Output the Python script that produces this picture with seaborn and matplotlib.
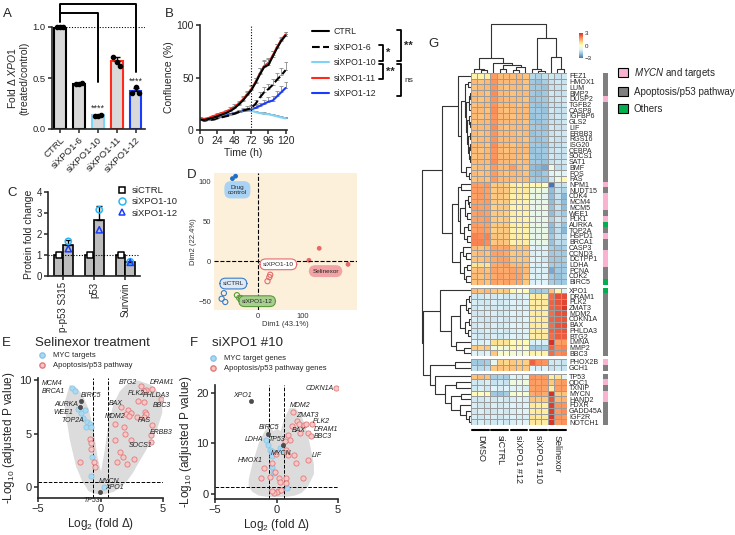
import numpy as np
import pandas as pd
import seaborn as sns
import matplotlib.pyplot as plt
from matplotlib.colors import LinearSegmentedColormap, ListedColormap
from matplotlib.lines import Line2D
from matplotlib.patches import Patch

# ------------------------------ data ------------------------------
# A: XPO1 knockdown (qPCR)
a_groups = ['CTRL', 'siXPO1-6', 'siXPO1-10', 'siXPO1-11', 'siXPO1-12']
a_reps = [[1.0, 1.0, 1.0], [0.44, 0.44, 0.45], [0.13, 0.13, 0.14],
          [0.71, 0.66, 0.62], [0.35, 0.41, 0.35]]
a_edge = ['black', 'black', '#7fd3f7', '#ff2a1a', '#1a3cff']

# B: confluence over time
b_time = [0, 6, 12, 18, 24, 30, 36, 42, 48, 54, 60, 66, 72, 78, 84, 90, 96, 102, 108, 114, 120]
b_ctrl = [10, 9.5, 10.5, 11.5, 13, 14.5, 16, 18, 20.5, 24, 28, 33, 38, 45, 53, 60, 62, 70, 78, 85, 90]
b_si6 = [10, 9, 9.5, 10, 11, 12, 13, 14, 15.5, 17, 18.5, 19.5, 21, 25, 31, 36, 39, 43, 48, 52, 57]
b_si10 = [11, 10.5, 11, 11.5, 12, 13, 14, 15, 16, 17, 18, 18.5, 18.5, 17, 16, 15.5, 15, 14, 13, 12, 11]
b_si11 = [11, 10.5, 11.5, 13, 14.5, 16, 17.5, 19.5, 22, 25, 29, 34, 39, 46, 54, 61, 64, 71, 79, 86, 91]
b_si12 = [10, 9.5, 10, 10.5, 11.5, 12.5, 13.5, 15, 16, 17, 18, 19, 20, 21, 23, 25, 27, 28, 32, 36, 40]
b_ctrl_err = [1, 1, 1, 1, 1.5, 1.5, 2, 2, 2.5, 3, 3, 3.5, 4, 5, 6, 7, 6, 5, 4, 3, 3]
b_si6_err = [1, 1, 1, 1, 1, 1, 1.5, 1.5, 2, 2, 2.5, 3, 3, 4, 5, 5, 5, 6, 6, 7, 8]
b_si10_err = [1, 1, 1, 1, 1, 1, 1, 1, 1, 1, 1.5, 1.5, 1.5, 1.5, 1.5, 1.5, 1.5, 1.5, 1.5, 1.5, 1.5]
b_si11_err = [1, 1, 1, 1, 1.5, 1.5, 2, 2, 2.5, 3, 3, 3.5, 4, 4, 5, 5, 5, 4, 3, 3, 2]
b_si12_err = [1, 1, 1, 1, 1, 1, 1, 1.5, 1.5, 2, 2, 2, 2.5, 3, 3, 4, 4, 4.5, 5, 5.5, 6]

# C: protein fold change
c_proteins = ['p-p53 S315', 'p53', 'Survivin']
c_ctrl = [1.0, 1.0, 1.0]
c_si10 = [1.65, 3.15, 0.68]
c_si12 = [1.30, 2.20, 0.65]

# D: PCA
d_drug_x, d_drug_y = [-57, -50], [103, 106]
d_si10_x, d_si10_y = [21, 25, 27], [-25, -20, -17]
d_sel_x, d_sel_y = [113, 136, 200], [1, 16, -4]
d_sictrl_x, d_sictrl_y = [-76, -81, -73], [-40, -47, -51]
d_si12_x, d_si12_y = [-47, -42, -38], [-42.5, -46, -46]

# E: volcano, Selinexor
e_cloud_x = [-2.9, -2.5, -2, -1.5, -1, -0.6, -0.3, 0, 0.3, 0.6, 1, 1.5, 2, 2.5, 3, 3.5, 4, 4.5, 4.9]
e_cloud_hi = [8.0, 9.6, 9.4, 8.7, 7.4, 5.5, 3.0, 1.5, 3.5, 6.0, 7.8, 9.0, 9.6, 9.9, 10.0, 9.8, 9.6, 9.0, 8.4]
e_cloud_lo = [7.5, 4.5, 2.0, 0.6, -0.3, -0.5, -0.6, -0.6, -0.6, -0.5, -0.4, 0.0, 0.5, 1.3, 2.3, 3.3, 4.3, 5.5, 7.0]
e_myc_x = [-2.26, -2.08, -1.8, -1.28, -1.55, -1.43, -1.1, -0.83, -1.2, -0.75, -0.67, -0.75, 0.24]
e_myc_y = [9.3, 9.0, 7.35, 7.2, 6.9, 6.45, 6.1, 5.9, 5.6, 5.6, 2.8, 1.1, 0.0]
e_apo_x = [-0.88, -0.75, -0.75, -1.68, -0.53, -0.48, 3.25, 4.13, 3.65, 3.5, 4.8, 3.44, 2.98,
           1.65, 2.18, 2.45, 2.05, 2.3, 2.93, 3.52, 3.6, 3.5, 1.12, 1.84, 4.13, 4.0, 4.0, 1.96,
           1.12, 2.45, 1.52, 1.8, 2.13, 1.3, 2.7]
e_apo_y = [4.55, 4.1, 3.6, 2.4, 2.35, 1.9, 9.45, 9.2, 9.1, 9.0, 8.2, 8.0, 8.1, 7.45, 7.2, 6.9,
           6.8, 6.65, 6.6, 7.05, 6.8, 6.6, 5.9, 5.65, 5.8, 4.85, 4.2, 5.0, 4.45, 4.45, 3.3, 2.8,
           2.2, 2.4, 2.6]
e_dark_x = [-1.55, -1.68, -0.03]
e_dark_y = [8.1, 7.45, -0.4]
e_lab = ['MCM4', 'BRCA1', 'BIRC5', 'AURKA', 'WEE1', 'TOP2A', 'BTG2', 'DRAM1', 'PLK2', 'PHLDA3',
         'BBC3', 'BAX', 'MDM2', 'FAS', 'ERBB3', 'SOCS1', 'MYCN', 'XPO1', 'TP53']
e_lab_x = [-3.9, -3.8, -0.75, -2.7, -3.0, -2.2, 2.2, 4.9, 2.86, 4.45, 4.9, 1.25, 1.2, 3.47,
           4.85, 3.17, 0.72, 1.12, -0.74]
e_lab_y = [9.7, 8.9, 8.6, 7.75, 7.0, 6.2, 9.8, 9.8, 8.75, 8.6, 7.6, 7.8, 6.65, 6.25, 5.1, 3.9,
           0.55, 0.0, -1.2]

# F: volcano, siXPO1 #10
f_cloud_x = [-2.3, -2.0, -1.5, -1.0, -0.6, -0.3, 0, 0.3, 0.6, 1.0, 1.5, 2.0, 2.5, 3.0]
f_cloud_hi = [3, 6, 10, 12.5, 13.5, 12.5, 13, 12.5, 15, 17, 17, 15.5, 12, 6]
f_cloud_lo = [1.5, 0.5, -0.2, -0.4, -0.5, -0.5, -0.5, -0.5, -0.5, -0.4, -0.2, 0.3, 1.5, 4]
f_myc_x = [-0.89, -0.7, -0.5, -0.4, -0.4, -0.35, -0.3, -0.2, 0.32, 0.46, 0.86]
f_myc_y = [10.7, 9.7, 8.7, 8.4, 7.4, 5.4, 4.4, 4.1, 9.0, 8.7, 1.1]
f_apo_x = [4.8, 1.35, 1.67, 1.8, 1.3, 2.2, 2.4, 2.88, 2.6, 2.8, 1.94, 0.91, 1.1, 0.73, 0.8,
           0.95, 1.4, 2.6, 1.6, -0.08, -0.35, -1.0, -0.56, -1.27, -0.1, 0.19, 0.27, 0.78, 0.78,
           2.15, 0.1, 0.0, 0.4, -0.2, -0.4]
f_apo_y = [20.9, 16.2, 14.3, 13.8, 13.5, 13.6, 13.8, 13.8, 12.0, 11.5, 12.0, 11.7, 10.7, 10.4,
           8.7, 7.7, 7.7, 6.7, 6.1, 7.9, 6.1, 5.1, 3.4, 3.1, 4.4, 3.2, 2.4, 3.1, 2.2, 3.1, 0.6,
           0.3, 0.8, 0.1, 0.6]
f_dark_x = [-2.04, -0.67, 0.54]
f_dark_y = [18.3, 11.9, 9.6]
f_lab = ['XPO1', 'CDKN1A', 'MDM2', 'ZMAT3', 'PLK2', 'DRAM1', 'BAX', 'BBC3', 'BIRC5', 'LDHA',
         'TP53', 'MYCN', 'LIF', 'HMOX1']
f_lab_x = [-2.77, 3.5, 1.94, 2.47, 3.68, 4.03, 1.8, 3.76, -0.62, -1.83, 0.0, 0.38, 3.28, -2.15]
f_lab_y = [19.4, 20.9, 17.4, 15.5, 14.2, 12.7, 12.5, 11.3, 13.1, 10.8, 10.7, 7.9, 7.6, 6.5]

# G: heatmap (z-scores), columns = DMSO x3, siCTRL x3, siXPO1 #12 x3, siXPO1 #10 x3, Selinexor x3
g_groups = ['DMSO', 'siCTRL', 'siXPO1 #12', 'siXPO1 #10', 'Selinexor']
g_genes_c1 = ['FEZ1', 'HMOX1', 'LUM', 'BMP2', 'DUSP2', 'TGFB2', 'CASP8', 'IGFBP6', 'GLS2', 'LIF',
              'ERBB3', 'RGS16', 'ISG20', 'CEBPA', 'SOCS1', 'SAT1', 'BMF', 'FOS', 'FAS']
g_vals_c1 = [
    [0.3, 0.3, 0.4, 1.6, 1.2, 1.2, 1.2, 1.2, 1.1, -1.5, -1.6, -1.4, -1.2, -1.3, -1.2],
    [1.2, 1.1, 1.2, 1.7, 1.2, 1.2, 1.2, 1.3, 1.1, -1.8, -1.9, -1.7, -1.3, -1.2, -1.3],
    [1.1, 1.2, 1.2, 1.7, 1.2, 1.1, 1.2, 1.2, 1.1, -1.8, -1.8, -1.9, -1.3, -1.3, -1.2],
    [1.2, 1.2, 1.1, 1.8, 1.2, 1.2, 1.1, 1.2, 1.2, -1.8, -1.9, -1.8, -1.2, -1.3, -1.3],
    [1.2, 1.1, 1.2, 1.7, 1.3, 1.2, 1.2, 1.2, 1.1, -1.9, -1.8, -1.8, -1.3, -1.2, -1.2],
    [1.1, 1.2, 1.2, 1.7, 1.2, 1.2, 1.2, 1.1, 1.2, -1.8, -1.9, -1.8, -1.3, -1.3, -1.2],
    [1.2, 1.2, 1.1, 1.8, 1.2, 1.1, 1.2, 1.2, 1.2, -1.8, -1.8, -1.9, -1.2, -1.3, -1.3],
    [1.2, 1.1, 1.2, 1.7, 1.2, 1.2, 1.1, 1.2, 1.2, -1.9, -1.8, -1.8, -1.3, -1.2, -1.3],
    [1.1, 1.2, 1.2, 1.7, 1.2, 1.2, 1.2, 1.2, 1.1, -1.8, -1.9, -1.8, -1.3, -1.3, -1.2],
    [1.2, 1.2, 1.2, 1.8, 1.2, 1.1, 1.2, 1.2, 1.2, -1.8, -1.8, -1.9, -1.2, -1.3, -1.3],
    [1.2, 1.1, 1.2, 1.7, 1.2, 1.2, 1.2, 1.1, 1.2, -1.9, -1.8, -1.8, -1.3, -1.2, -1.2],
    [1.1, 1.2, 1.2, 1.7, 1.2, 1.2, 1.2, 1.2, 1.1, -1.8, -1.9, -1.8, -1.2, -1.3, -1.3],
    [1.2, 1.2, 1.1, 1.8, 1.2, 1.2, 1.1, 1.2, 1.2, -1.8, -1.8, -1.9, -1.3, -1.3, -1.2],
    [1.2, 1.1, 1.2, 1.7, 1.2, 1.1, 1.2, 1.2, 1.2, -1.9, -1.8, -1.8, -1.3, -1.2, -1.3],
    [1.1, 1.2, 1.2, 1.7, 1.2, 1.2, 1.2, 1.2, 1.1, -1.8, -1.9, -1.8, -1.2, -1.3, -1.3],
    [1.2, 1.2, 1.2, 1.8, 1.2, 1.2, 1.2, 1.1, 1.2, -1.8, -1.8, -1.9, -1.3, -1.2, -1.2],
    [1.1, 1.2, 1.1, 1.6, 1.2, 1.2, 1.6, 1.2, 1.1, -2.0, -2.1, -2.3, -0.6, -1.4, -1.3],
    [1.2, 1.1, 1.2, 1.6, 1.2, 1.1, 1.2, 1.2, 1.1, -1.9, -2.0, -1.8, -1.0, -0.8, -1.0],
    [1.1, 1.2, 1.1, 1.6, 1.2, 1.2, 1.2, 1.1, 1.2, -1.8, -1.8, -1.9, -1.2, -0.6, 0.2]]
g_genes_c2 = ['NPM1', 'NUDT15', 'CDK4', 'MCM4', 'MCM5', 'WEE1', 'PLK1', 'AURKA', 'TOP2A', 'HSPD1',
              'BRCA1', 'CASP3', 'CCND3', 'DCTPP1', 'LDHA', 'PCNA', 'CDK2', 'BIRC5']
g_vals_c2 = [
    [1.6, 1.5, 1.6, 1.0, 1.0, 0.9, 0.4, 0.3, 0.4, 0.1, 0.2, -0.2, -3.0, -1.2, -1.3],
    [1.6, 1.6, 1.5, 1.0, 1.1, 1.0, 0.5, 0.4, 0.5, -0.6, -0.5, -0.7, -2.0, -1.3, -1.6],
    [1.5, 1.6, 1.5, 1.0, 1.0, 0.9, 0.3, 0.4, 0.3, -0.7, -0.6, -0.9, -2.0, -1.3, -2.1],
    [1.5, 1.5, 1.6, 1.0, 0.9, 1.0, 0.4, 0.3, 0.3, -0.6, -0.8, -0.7, -2.0, -1.4, -2.0],
    [1.6, 1.5, 1.5, 0.9, 1.0, 1.0, 0.3, 0.3, 0.4, -0.8, -0.7, -0.6, -1.9, -1.3, -2.0],
    [1.5, 1.6, 1.5, 1.0, 1.0, 0.9, 0.4, 0.3, 0.3, -0.7, -0.7, -0.8, -2.0, -1.5, -1.8],
    [1.5, 1.5, 1.6, 1.0, 0.9, 1.0, 0.3, 0.4, 0.3, -0.6, -0.8, -0.7, -1.6, -1.2, -1.5],
    [1.6, 1.5, 1.5, 1.0, 1.0, 1.0, 0.4, 0.3, 0.4, -0.7, -0.6, -0.8, -2.0, -1.3, -1.9],
    [1.5, 1.6, 1.5, 0.9, 1.0, 1.0, 0.3, 0.3, 0.3, -0.8, -0.7, -0.7, -2.0, -1.4, -2.1],
    [1.9, 1.8, 1.9, 1.1, 1.0, 1.0, 0.4, 0.4, 0.3, -0.7, -0.8, -0.6, -1.8, -1.3, -1.4],
    [1.9, 1.9, 1.8, 1.0, 1.1, 1.0, 0.3, 0.4, 0.4, -0.8, -0.7, -0.7, -1.9, -1.4, -1.5],
    [1.2, 1.1, 1.2, 1.5, 1.4, 1.5, 1.1, 1.0, 1.1, -1.0, -1.1, -1.0, -1.7, -1.8, -1.7],
    [1.1, 1.2, 1.1, 1.5, 1.5, 1.4, 1.0, 1.1, 1.0, -1.1, -1.0, -1.1, -1.8, -1.7, -1.8],
    [1.1, 1.1, 1.2, 1.4, 1.5, 1.5, 1.1, 1.0, 1.1, -1.0, -1.0, -1.2, -1.8, -1.8, -1.7],
    [0.6, 0.7, 0.6, 1.4, 1.4, 1.5, 1.2, 1.2, 1.1, -1.0, -1.1, -1.0, -1.7, -1.7, -1.8],
    [1.1, 1.2, 1.1, 1.5, 1.4, 1.4, 1.5, 1.4, 1.2, -1.1, -1.0, -1.1, -2.3, -1.8, -1.8],
    [1.2, 1.1, 1.2, 1.4, 1.5, 1.4, 1.5, 1.5, 1.1, -1.0, -1.1, -1.0, -1.8, -1.9, -1.7],
    [1.1, 1.2, 1.1, 1.5, 1.4, 1.5, 1.4, 1.4, 1.0, -1.1, -1.0, -1.0, -1.7, -1.8, -1.8]]
g_genes_c3 = ['XPO1', 'DRAM1', 'PLK2', 'ZMAT3', 'MDM2', 'CDKN1A', 'BAX', 'PHLDA3', 'BTG2',
              'LMNA', 'MMP2', 'BBC3']
g_vals_c3 = [
    [1.2, 1.1, 1.2, 1.0, 0.9, 1.0, 0.2, -0.2, 0.1, -1.8, -1.8, -1.7, 1.1, 0.3, -1.0],
    [-1.2, -1.2, -1.1, -1.2, -1.1, -1.2, -1.1, -1.1, -1.0, 0.4, 0.5, 0.4, 2.2, 2.6, 2.6],
    [-1.1, -1.2, -1.2, -1.1, -1.2, -1.1, -1.0, -1.1, -1.0, 0.4, 0.4, 0.5, 2.3, 2.5, 2.7],
    [-1.2, -1.1, -1.2, -1.2, -1.1, -1.2, -1.1, -1.0, -1.1, 0.5, 0.4, 0.4, 2.3, 2.4, 2.9],
    [-1.2, -1.2, -1.1, -1.1, -1.2, -1.1, -1.0, -1.1, -1.0, 0.4, 0.5, 0.4, 2.2, 2.5, 2.6],
    [-1.1, -1.2, -1.2, -1.2, -1.1, -1.2, -1.1, -1.1, -1.0, 0.4, 0.4, 0.5, 2.3, 2.4, 2.5],
    [-1.2, -1.1, -1.2, -1.1, -1.2, -1.1, -1.0, -1.0, -1.1, 0.5, 0.4, 0.4, 2.2, 2.5, 2.6],
    [-1.2, -1.2, -1.1, -1.2, -1.1, -1.2, -1.1, -1.0, -1.0, 0.4, 0.5, 0.4, 2.3, 2.4, 2.5],
    [-1.1, -1.2, -1.2, -1.1, -1.2, -1.1, -1.0, -1.1, -1.0, 0.4, 0.4, 0.5, 2.2, 2.4, 2.4],
    [-1.0, -1.1, -1.0, 0.7, 0.6, 0.6, 0.1, 0.2, 0.1, -1.1, -1.0, -1.1, 3.0, 1.5, 1.6],
    [1.0, 0.9, 1.0, -0.5, -0.3, -0.6, 0.2, -0.4, -0.3, -1.8, -1.8, -1.7, 2.3, 1.8, 1.9],
    [-1.0, -1.1, -1.0, 1.0, -0.3, -0.2, -0.4, -0.5, -0.3, 0.3, 0.2, 0.3, 2.2, 1.8, 1.9]]
g_genes_c4 = ['PHOX2B', 'GCH1']
g_vals_c4 = [
    [-1.8, -1.8, -1.7, -0.8, 0.9, 0.8, 1.0, 0.9, 0.9, 2.3, 1.8, 1.7, -1.2, -1.2, -1.3],
    [-1.4, -1.5, -1.4, 1.0, 1.1, 1.0, 1.1, 1.0, 1.0, -1.0, -1.1, -1.0, -1.3, -1.2, -1.3]]
g_genes_c5 = ['TP53', 'ODC1', 'TXNIP', 'MYCN', 'HAND2', 'FDXR', 'GADD45A', 'IGF2R', 'NOTCH1']
g_vals_c5 = [
    [1.1, 1.2, 1.1, -1.7, -1.6, -1.7, -1.0, -1.1, -0.9, 1.7, 1.6, 1.6, 0.4, 0.6, -0.9],
    [-1.2, -1.2, -1.1, -1.3, -1.2, -1.3, -0.5, -0.6, -0.5, 1.6, 1.5, 1.6, 1.0, 1.5, 1.6],
    [-1.2, -1.1, -1.2, -1.0, -1.1, -1.0, -1.0, -1.0, -1.1, 1.5, 1.6, 1.5, 0.4, 1.6, 1.6],
    [0.1, 0.0, 0.1, -1.8, -1.9, -1.7, -0.3, -0.2, -0.4, 1.4, 1.5, 1.4, 3.0, 1.0, 1.1],
    [-1.2, -1.2, -1.1, -1.2, -1.1, -1.2, -1.1, -1.0, -1.1, 1.1, 1.0, 1.0, 2.5, 1.2, 1.3],
    [-1.1, -1.2, -1.2, -1.1, -1.2, -1.1, -1.0, -1.1, -1.0, 0.5, 0.4, 0.4, 2.8, 1.7, 1.7],
    [-1.2, -1.1, -1.2, -1.2, -1.1, -1.2, -1.1, -1.0, -1.0, 0.4, 0.5, 0.4, 2.8, 1.6, 1.8],
    [-1.1, -1.2, -1.1, -1.1, -1.2, -1.1, -1.0, -1.1, -1.1, 0.6, 0.5, 0.5, 2.9, 1.7, 1.6],
    [-1.2, -1.1, -1.2, -1.2, -1.1, -1.2, -1.1, -1.0, -1.0, 0.5, 0.5, 0.4, 2.9, 1.6, 1.7]]
# gene category: 0 = MYCN and targets, 1 = apoptosis/p53, 2 = others
g_cat_c1 = [1, 1, 1, 1, 0, 1, 1, 1, 1, 1, 1, 1, 1, 1, 1, 1, 1, 1, 1]
g_cat_c2 = [0, 1, 0, 0, 0, 1, 0, 2, 1, 0, 1, 1, 0, 0, 0, 1, 1, 2]
g_cat_c3 = [2, 1, 1, 1, 1, 1, 1, 1, 1, 1, 1, 1]
g_cat_c4 = [0, 1]
g_cat_c5 = [1, 0, 1, 0, 0, 1, 1, 1, 1]
# dendrograms as (height, left, right), leaves are row / column indices
g_col_tree = (1.0, (0.315, (0.075, 0, (0.055, 1, 2)),
                    (0.205, 3, (0.16, (0.075, 4, 5), (0.12, (0.055, 6, 7), 8)))),
              (0.72, (0.075, 9, (0.04, 10, 11)), (0.33, 12, (0.075, 13, 14))))
g_tree_c1 = (0.27, 0, (0.2, (0.12, (0.06, 1, 2), (0.1, (0.05, (0.03, 3, 4), (0.04, 5, 6)),
              (0.08, (0.04, 7, (0.02, 8, 9)), (0.06, (0.03, 10, 11),
              (0.05, (0.02, 12, 13), (0.03, 14, 15)))))), (0.1, 16, (0.05, 17, 18))))
g_tree_c2 = (0.39, (0.27, (0.2, 19, 20), (0.22, (0.12, (0.06, 21, (0.04, 22, 23)), (0.08, 24, 25)),
              (0.15, (0.07, 26, 27), (0.09, 28, 29)))),
             (0.22, (0.16, 30, (0.1, 31, 32)), (0.14, (0.08, 33, 34), (0.1, 35, 36))))
g_tree_c3 = (0.63, 37, (0.4, (0.22, (0.1, (0.04, 38, 39), (0.06, 40, 41)),
              (0.12, (0.05, 42, 43), (0.07, 44, 45))), (0.3, 46, (0.15, 47, 48))))
g_tree_c45 = (0.84, (0.33, 49, 50), (0.73, 51, (0.53, (0.3, 52, 53),
              (0.4, (0.2, 54, 55), (0.22, 56, (0.1, 57, (0.05, 58, 59)))))))
g_row_tree = (1.0, (0.6, g_tree_c1, g_tree_c2), (0.97, g_tree_c3, g_tree_c45))

# ------------------------------ style ------------------------------
sns.set_style('ticks')
plt.rcParams['font.family'] = ['Liberation Sans', 'DejaVu Sans']
plt.rcParams['mathtext.fontset'] = 'custom'
plt.rcParams['mathtext.rm'] = 'Liberation Sans'
plt.rcParams['mathtext.it'] = 'Liberation Sans:italic'

W, H = 735, 535
fig = plt.figure(figsize=(W / 100, H / 100), dpi=100)


def px_axes(x0, y0, x1, y1):
    return fig.add_axes([x0 / W, 1 - y1 / H, (x1 - x0) / W, (y1 - y0) / H])


def style_ax(ax, size):
    sns.despine(ax=ax)
    ax.tick_params(direction='out', length=3, width=1.1, labelsize=size, pad=1.5)
    for s in ['left', 'bottom']:
        ax.spines[s].set_linewidth(1.2)


#--------------------------- A ---------------------------
axA = px_axes(52, 27, 145, 129)
a_long = pd.DataFrame({'group': np.repeat(a_groups, 3), 'value': np.concatenate(a_reps)})
sns.barplot(data=a_long, x='group', y='value', order=a_groups, errorbar=None, color='#d9d9d9',
            saturation=1, width=0.62, linewidth=1.5, edgecolor='black', ax=axA)
for bar, col in zip(axA.patches, a_edge):
    bar.set_edgecolor(col)
a_stats = a_long.groupby('group', sort=False)['value'].agg(['mean', 'std'])
axA.errorbar(np.arange(5), a_stats['mean'], yerr=[np.zeros(5), a_stats['std']], fmt='none',
             ecolor='black', elinewidth=1, capsize=2.5, capthick=1, zorder=3)
for i, reps in enumerate(a_reps):
    axA.scatter(i + np.array([-0.17, 0.0, 0.17]), reps, s=9, color='black', zorder=4, clip_on=False)
axA.axhline(1.0, color='black', ls=(0, (1, 1.5)), lw=0.8, zorder=1)
axA.set_ylim(0, 1.0)
axA.set_xlim(-0.42, 4.5)
axA.set_yticks([0, 0.5, 1.0], ['0.0', '0.5', '1.0'])
style_ax(axA, 6.8)
axA.set_xticks(range(5))
axA.set_xticklabels(a_groups, rotation=45, ha='right', rotation_mode='anchor')
axA.set_xlabel('')
axA.set_ylabel('Fold $\\Delta$ $\\it{XPO1}$\n(treated/control)', fontsize=7.5, labelpad=2)
axA.plot([0, 0, 4, 4], [1.05, 1.225, 1.225, 0.56], color='black', lw=1.4, clip_on=False)
axA.plot([0, 2, 2], [1.137, 1.137, 0.46], color='black', lw=1.4, clip_on=False)
axA.text(2, 0.16, '****', ha='center', va='bottom', fontsize=6.5)
axA.text(4, 0.42, '****', ha='center', va='bottom', fontsize=6.5)

#--------------------------- B ---------------------------
axB = px_axes(200, 25, 287, 130)
b_series = [(b_si10, b_si10_err, '#7fd3f7', '-'), (b_si12, b_si12_err, '#1a3cff', '-'),
            (b_si6, b_si6_err, 'black', '--'), (b_si11, b_si11_err, '#ff2a1a', '-'),
            (b_ctrl, b_ctrl_err, 'black', '-')]
for vals, err, col, ls in b_series:
    axB.errorbar(b_time, vals, yerr=[np.zeros(len(err)), err], fmt='none', ecolor='#8c8c8c',
                 elinewidth=0.6, capsize=1.4, capthick=0.6)
    sns.lineplot(x=b_time, y=vals, color=col, linestyle=ls, lw=1.5, ax=axB)
axB.axvline(72, color='black', ls=(0, (1, 1.5)), lw=0.8)
axB.set_xlim(0, 122)
axB.set_ylim(0, 100)
axB.set_xticks([0, 24, 48, 72, 96, 120])
axB.set_yticks([0, 50, 100])
style_ax(axB, 7.5)
axB.set_xlabel('Time (h)', fontsize=7.5, labelpad=1)
axB.set_ylabel('Confluence (%)', fontsize=7.5, labelpad=2)
b_handles = [Line2D([], [], color='black', lw=1.5), Line2D([], [], color='black', lw=1.5, ls='--'),
             Line2D([], [], color='#7fd3f7', lw=1.5), Line2D([], [], color='#ff2a1a', lw=1.5),
             Line2D([], [], color='#1a3cff', lw=1.5)]
axB.legend(b_handles, ['CTRL', 'siXPO1-6', 'siXPO1-10', 'siXPO1-11', 'siXPO1-12'],
           loc='upper left', bbox_to_anchor=(312 / W, 1 - 27 / H), bbox_transform=fig.transFigure,
           frameon=False, fontsize=6.3, handlelength=1.9, labelspacing=0.75, borderpad=0,
           borderaxespad=0, handletextpad=0.6)

#--------------------------- C ---------------------------
axC = px_axes(48, 192, 140, 276)
c_long = pd.DataFrame({
    'protein': c_proteins * 3,
    'cond': ['siCTRL'] * 3 + ['siXPO1'] * 6,
    'fold': c_ctrl + c_si10 + c_si12})
sns.barplot(data=c_long, x='protein', y='fold', hue='cond', order=c_proteins, errorbar=None,
            palette=['#bdbdbd', '#bdbdbd'], saturation=1, width=0.62, linewidth=1.2,
            edgecolor='black', legend=False, ax=axC)
c_si = c_long[c_long['cond'] == 'siXPO1'].groupby('protein', sort=False)['fold'].agg(['mean', 'std'])
c_x = np.arange(3)
axC.errorbar(c_x + 0.155, c_si['mean'], yerr=[np.zeros(3), c_si['std']], fmt='none',
             ecolor='black', elinewidth=1, capsize=2.5, capthick=1, zorder=3)
axC.scatter(c_x - 0.155, c_ctrl, marker='s', s=22, facecolor='white', edgecolor='black', lw=1.1, zorder=4)
axC.scatter(c_x + 0.155, c_si10, marker='o', s=20, facecolor='none', edgecolor='#29b6f6', lw=1.1, zorder=4)
axC.scatter(c_x + 0.155, c_si12, marker='^', s=20, facecolor='none', edgecolor='#1a3cff', lw=1.1, zorder=4)
axC.axhline(1.0, color='black', ls=(0, (1, 1.5)), lw=0.8, zorder=1)
axC.set_ylim(0, 4)
axC.set_xlim(-0.5, 2.47)
axC.set_yticks([0, 1, 2, 3, 4])
style_ax(axC, 7)
axC.set_xticks(c_x)
axC.set_xticklabels(c_proteins, rotation=90)
axC.set_xlabel('')
axC.set_ylabel('Protein fold change', fontsize=7.5, labelpad=2)
c_handles = [Line2D([], [], ls='', marker='s', ms=5, mfc='white', mec='black', mew=1.1),
             Line2D([], [], ls='', marker='o', ms=5, mfc='none', mec='#29b6f6', mew=1.1),
             Line2D([], [], ls='', marker='^', ms=5, mfc='none', mec='#1a3cff', mew=1.1)]
axC.legend(c_handles, ['siCTRL', 'siXPO1-10', 'siXPO1-12'], loc='upper left',
           bbox_to_anchor=(117 / W, 1 - 186 / H), bbox_transform=fig.transFigure, frameon=False,
           fontsize=6.8, handlelength=1.0, labelspacing=0.25, borderpad=0, borderaxespad=0,
           handletextpad=0.6)

#--------------------------- D ---------------------------
axD = px_axes(214, 173, 357, 310)
axD.set_facecolor('#fdf0da')
sns.scatterplot(x=d_drug_x, y=d_drug_y, color='#1f6fc9', s=12, edgecolor='none', ax=axD)
sns.scatterplot(x=d_sel_x, y=d_sel_y, color='#e56a6a', s=12, edgecolor='none', ax=axD)
axD.scatter(d_si10_x, d_si10_y, s=14, facecolor='none', edgecolor='#e56a6a', lw=0.8)
axD.scatter(d_sictrl_x, d_sictrl_y, s=14, facecolor='none', edgecolor='#3a7dc9', lw=0.8)
axD.scatter(d_si12_x, d_si12_y, s=14, facecolor='none', edgecolor='#5a9a3c', lw=0.8)
axD.axvline(0, color='black', ls='--', lw=0.8)
axD.axhline(0, color='black', ls='--', lw=0.8)
d_box = dict(boxstyle='round,pad=0.45,rounding_size=0.9', lw=0.8)
axD.text(-46, 89, 'Drug\ncontrol', ha='center', va='center', fontsize=4.6, linespacing=1.1,
         bbox=dict(d_box, fc='#a9d3f5', ec='#a9d3f5'))
axD.text(45, -4, 'siXPO1-10', ha='center', va='center', fontsize=4.6, bbox=dict(d_box, fc='white', ec='#e56a6a'))
axD.text(150, -12.5, 'Selinexor', ha='center', va='center', fontsize=4.6, bbox=dict(d_box, fc='#f2a3a3', ec='#f2a3a3'))
axD.text(-55, -28, 'siCTRL', ha='center', va='center', fontsize=4.6, bbox=dict(d_box, fc='#dde9f7', ec='#3a7dc9'))
axD.text(-2, -50, 'siXPO1-12', ha='center', va='center', fontsize=4.6, bbox=dict(d_box, fc='#a8cf90', ec='#5a9a3c'))
axD.set_xlim(-98, 220)
axD.set_ylim(-61, 110)
axD.set_xticks([0, 100])
axD.set_yticks([-50, 0, 50, 100])
sns.despine(ax=axD, left=True, bottom=True)
axD.tick_params(length=0, labelsize=5.5, labelcolor='#333333', pad=2)
axD.set_xlabel('Dim1 (43.1%)', fontsize=5.5, color='#333333', labelpad=1)
axD.set_ylabel('Dim2 (22.4%)', fontsize=5.5, color='#333333', labelpad=1)


#--------------------------- E / F ---------------------------
def volcano(ax, cx, clo, chi, mx, my, ax_, ay, dx, dy, labs, lx, ly, hline):
    ax.fill_between(cx, clo, chi, color='#dcdcdc', lw=0, zorder=1)
    sns.scatterplot(x=mx, y=my, color='#aad9f2', edgecolor='#86c4e6', s=14, linewidth=0.5, ax=ax, zorder=3)
    sns.scatterplot(x=ax_, y=ay, color='#f7c6c6', edgecolor='#e27a7a', s=14, linewidth=0.6, ax=ax, zorder=3)
    sns.scatterplot(x=dx, y=dy, color='#4d4d4d', edgecolor='#333333', s=10, linewidth=0.3, ax=ax, zorder=4)
    for t, x, y in zip(labs, lx, ly):
        ax.text(x, y, t, fontsize=5, style='italic', ha='center', va='center', color='#222222',
                zorder=5, clip_on=False)
    ax.axvline(-0.58, color='black', ls='--', lw=0.7, zorder=2)
    ax.axvline(0.58, color='black', ls='--', lw=0.7, zorder=2)
    ax.axhline(hline, color='black', ls='--', lw=0.7, zorder=2)
    ax.set_xlim(-5, 5)
    ax.set_xticks([-5, 0, 5])
    style_ax(ax, 8)
    ax.set_xlabel('Log$_2$ (fold $\\Delta$)', fontsize=8.5, labelpad=1)
    ax.set_ylabel('-Log$_{10}$ (adjusted P value)', fontsize=8.5, labelpad=2)


axE = px_axes(38, 378, 163, 498)
volcano(axE, e_cloud_x, e_cloud_lo, e_cloud_hi, e_myc_x, e_myc_y, e_apo_x, e_apo_y,
        e_dark_x, e_dark_y, e_lab, e_lab_x, e_lab_y, 0.45)
axE.set_ylim(-1, 10.2)
axE.set_yticks([0, 5, 10])

axF = px_axes(215, 385, 338, 499)
volcano(axF, f_cloud_x, f_cloud_lo, f_cloud_hi, f_myc_x, f_myc_y, f_apo_x, f_apo_y,
        f_dark_x, f_dark_y, f_lab, f_lab_x, f_lab_y, 1.3)
axF.set_ylim(-1, 21.5)
axF.set_yticks([0, 10, 20])

ef_dot = dict(ls='', marker='o', ms=3.8)
axE.legend([Line2D([], [], mfc='#aad9f2', mec='#86c4e6', **ef_dot),
            Line2D([], [], mfc='#f7c6c6', mec='#e27a7a', **ef_dot)],
           ['MYC targets', 'Apoptosis/p53 pathway'], loc='upper left',
           bbox_to_anchor=(39 / W, 1 - 352 / H), bbox_transform=fig.transFigure, frameon=False,
           fontsize=5.5, handlelength=0.8, handletextpad=1.0, labelspacing=0.35, borderpad=0,
           borderaxespad=0)
axF.legend([Line2D([], [], mfc='#aad9f2', mec='#86c4e6', **ef_dot),
            Line2D([], [], mfc='#f7c6c6', mec='#e27a7a', **ef_dot)],
           ['MYC target genes', 'Apoptosis/p53 pathway genes'], loc='upper left',
           bbox_to_anchor=(210 / W, 1 - 355 / H), bbox_transform=fig.transFigure, frameon=False,
           fontsize=5.5, handlelength=0.8, handletextpad=1.0, labelspacing=0.35, borderpad=0,
           borderaxespad=0)

#--------------------------- G ---------------------------
# pheatmap-like RdYlBu ramp, light orange stretched a little on the positive side
g_cmap = LinearSegmentedColormap.from_list('pheat', [
    (0.0, '#4575B4'), (1 / 6, '#91BFDB'), (2 / 6, '#E0F3F8'), (0.5, '#FFFFBF'),
    (3.7 / 6, '#FEE090'), (4.8 / 6, '#FC8D59'), (1.0, '#D73027')])
g_cat_cmap = ListedColormap(['#f9b3d1', '#7f7f7f', '#00b050'])
g_blocks = [(g_genes_c1 + g_genes_c2, g_vals_c1 + g_vals_c2, g_cat_c1 + g_cat_c2),
            (g_genes_c3, g_vals_c3, g_cat_c3), (g_genes_c4, g_vals_c4, g_cat_c4),
            (g_genes_c5, g_vals_c5, g_cat_c5)]
hm_left, hm_right, hm_top, hm_bot, hm_gap = 471, 567, 73, 425, 3
n_rows = sum(len(b[0]) for b in g_blocks)
row_h = (hm_bot - hm_top - hm_gap * (len(g_blocks) - 1)) / n_rows
row_center = []
y = hm_top
for genes, vals, cats in g_blocks:
    y1 = y + len(genes) * row_h
    axH = px_axes(hm_left, y, hm_right, y1)
    sns.heatmap(np.array(vals), cmap=g_cmap, vmin=-3, vmax=3, cbar=False, linewidths=0.5,
                linecolor='#9c9c9c', xticklabels=False, yticklabels=genes, ax=axH)
    axH.yaxis.tick_right()
    axH.tick_params(axis='y', length=0, pad=1.5, labelsize=5.1, labelrotation=0)
    axAn = px_axes(603, y, 608, y1)
    sns.heatmap(np.array(cats)[:, None], cmap=g_cat_cmap, vmin=-0.5, vmax=2.5, cbar=False,
                xticklabels=False, yticklabels=False, ax=axAn)
    row_center += [y + (k + 0.5) * row_h for k in range(len(genes))]
    y = y1 + hm_gap
    if len(genes) > 30:
        hm_mappable = axH.collections[0]


def draw_tree(ax, node, pos, top):
    if isinstance(node, int):
        return pos[node], 0.0
    h, a, b = node
    pa, ha = draw_tree(ax, a, pos, top)
    pb, hb = draw_tree(ax, b, pos, top)
    p, q = [pa, pa, pb, pb], [ha, h, h, hb]
    if top:
        ax.plot(p, q, color='#333333', lw=0.8)
    else:
        ax.plot(q, p, color='#333333', lw=0.8)
    return (pa + pb) / 2, h


axRT = px_axes(418, hm_top, hm_left, hm_bot)
axRT.set_xlim(53 / 49, 0)
axRT.set_ylim(hm_bot, hm_top)
draw_tree(axRT, g_row_tree, row_center, False)
axRT.axis('off')

axCT = px_axes(hm_left, 20, hm_right, hm_top)
axCT.set_xlim(0, 15)
axCT.set_ylim(0, 53 / 49)
draw_tree(axCT, g_col_tree, [i + 0.5 for i in range(15)], True)
axCT.axis('off')

axCL = px_axes(hm_left, 427, hm_right, 500)
axCL.set_xlim(0, 15)
axCL.set_ylim(73, 0)
for g, name in enumerate(g_groups):
    axCL.plot([3 * g + 0.2, 3 * g + 2.8], [3, 3], color='black', lw=1.5)
    axCL.text(3 * g + 1.5, 8, name, rotation=-90, ha='center', va='top', fontsize=6.5)
axCL.axis('off')

cax = px_axes(579, 33, 583, 58)
cb = fig.colorbar(hm_mappable, cax=cax, ticks=[-3, 0, 3])
cb.outline.set_visible(False)
cax.tick_params(labelsize=4.5, length=0, pad=1)

fig.legend([Patch(fc='#f9b3d1', ec='black', lw=0.8), Patch(fc='#7f7f7f', ec='black', lw=0.8),
            Patch(fc='#00b050', ec='black', lw=0.8)],
           ['$\\it{MYCN}$ and targets', 'Apoptosis/p53 pathway', 'Others'], loc='upper left',
           bbox_to_anchor=(618 / W, 1 - 66 / H), frameon=False, fontsize=7, handlelength=1.0,
           handleheight=1.0, labelspacing=0.7, handletextpad=0.6, borderpad=0, borderaxespad=0)

#--------------------------- overlay: letters, titles, brackets ---------------------------
ov = fig.add_axes([0, 0, 1, 1], zorder=10)
ov.set_xlim(0, W)
ov.set_ylim(H, 0)
ov.axis('off')
ov.patch.set_alpha(0)
for letter, x, yb in [('A', 3, 17), ('B', 165, 17), ('C', 7, 196), ('D', 187, 178),
                      ('E', 2, 346), ('F', 190, 346), ('G', 428, 47)]:
    ov.text(x, yb, letter, fontsize=9.5, va='baseline')
ov.text(35, 346, 'Selinexor treatment', fontsize=9.5, va='baseline')
ov.text(212, 346, 'siXPO1 #10', fontsize=9.5, va='baseline')


def bracket(x, y0, y1, label, size):
    ov.plot([x - 4, x, x, x - 4], [y0, y0, y1, y1], color='black', lw=1.3)
    ov.text(x + 3, (y0 + y1) / 2, label, fontsize=size, va='center', ha='left',
            fontweight='bold' if '*' in label else 'normal')


bracket(383, 45, 61, '*', 8)
bracket(383, 64, 79, '**', 8)
bracket(401, 30, 61, '**', 8)
bracket(401, 64, 96, 'ns', 6)

fig.savefig('out.png', dpi=100)
